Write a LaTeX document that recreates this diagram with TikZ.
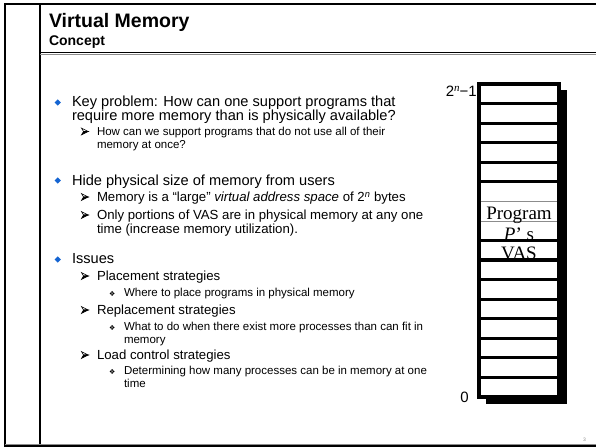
\documentclass[tikz,border=0pt]{standalone}
\usepackage{fontspec}
\setmainfont{Liberation Sans}
\newfontfamily\serifface{Liberation Serif}
\newfontfamily\dingface{DejaVu Sans}
\usetikzlibrary{shapes.geometric}
\definecolor{bulletblue}{RGB}{20,100,210}
\definecolor{rulegray}{RGB}{140,140,140}

\tikzset{
  txt/.style={anchor=base west, inner sep=0pt, outer sep=0pt},
  lvlone/.style={txt, font=\fontsize{14.6}{16}\selectfont},
  lvltwo/.style={txt, font=\fontsize{13.2}{15}\selectfont},
  lvltwosmall/.style={txt, font=\fontsize{11.5}{13}\selectfont},
  lvlthree/.style={txt, font=\fontsize{11.5}{13}\selectfont},
  bluediamond/.style={diamond, fill=bulletblue, inner sep=0pt,
    minimum width=6.5pt, minimum height=6.5pt},
  dingbullet/.style={txt, font=\dingface\fontsize{7}{8}\selectfont},
  frameline/.style={line width=2pt, black},
  cell/.style={fill=white, draw=black, line width=3.2pt},
  cellword/.style={anchor=base, inner sep=0pt, font=\serifface\fontsize{19}{20}\selectfont},
  % three-dimensional arrowhead bullet: light upper facet, dark lower facet
  arrowmark/.pic={
    \filldraw[black, fill=white, line width=0.6pt, line join=miter]
      (0,-3.4) -- (6.6,0) -- (2,0) -- cycle;
    \filldraw[black, line width=0.6pt, line join=miter]
      (2,0) -- (6.6,0) -- (0,3.4) -- cycle;
  },
}

\begin{document}
\begin{tikzpicture}[x=1pt, y=-1pt]
\useasboundingbox (0,0) rectangle (596,447);
\fill[white] (0,0) rectangle (596,447);

% slide frame
\draw[frameline] (5,4) -- (596,4);
\draw[frameline] (5,3) -- (5,447);
\draw[frameline] (40,3) -- (40,447);
\draw[line width=1.6pt] (40,52.5) -- (596,52.5);
\draw[rulegray, line width=0.8pt] (40,54.2) -- (596,54.2);
\draw[rulegray, line width=0.8pt] (5,444.6) -- (596,444.6);
\draw[line width=1.6pt] (5,446) -- (596,446);

% heading
\node[txt, font=\bfseries\fontsize{19.5}{21}\selectfont] (title) at (49,27.5) {Virtual Memory};
\node[txt, font=\bfseries\fontsize{14}{16}\selectfont] (subtitle) at (49,45) {Concept};

% first bullet
\node[bluediamond] (b1) at (57.7,102.5) {};
\node[lvlone] (t1a) at (72,106.5) {Key problem: How can one support programs that};
\node[lvlone] (t1b) at (72,120.5) {require more memory than is physically available?};
\pic at (81.5,131.5) {arrowmark};
\node[lvltwosmall] (t1c) at (97,135) {How can we support programs that do not use all of their};
\node[lvltwosmall] (t1d) at (97,148) {memory at once?};

% second bullet
\node[bluediamond] (b2) at (57.7,180.5) {};
\node[lvlone] (t2a) at (72,185) {Hide physical size of memory from users};
\pic at (81.5,197) {arrowmark};
\node[lvltwo] (t2b) at (97,201.5) {Memory is a “large” \textit{virtual address space} of 2\textsuperscript{\textit{n}} bytes};
\pic at (81.5,215) {arrowmark};
\node[lvltwo] (t2c) at (97,219.5) {Only portions of VAS are in physical memory at any one};
\node[lvltwo] (t2d) at (97,233) {time (increase memory utilization).};

% third bullet
\node[bluediamond] (b3) at (57.7,259.5) {};
\node[lvlone] (t3a) at (72,263.5) {Issues};
\pic at (81.5,276) {arrowmark};
\node[lvltwo] (t3b) at (97,280.5) {Placement strategies};
\node[dingbullet] (d1) at (109,296) {❖};
\node[lvlthree] (t3c) at (124,296) {Where to place programs in physical memory};
\pic at (81.5,310) {arrowmark};
\node[lvltwo] (t3d) at (97,314.5) {Replacement strategies};
\node[dingbullet] (d2) at (109,330.5) {❖};
\node[lvlthree] (t3e) at (124,330.5) {What to do when there exist more processes than can fit in};
\node[lvlthree] (t3f) at (124,343.5) {memory};
\pic at (81.5,355) {arrowmark};
\node[lvltwo] (t3g) at (97,359.5) {Load control strategies};
\node[dingbullet] (d3) at (109,374.5) {❖};
\node[lvlthree] (t3h) at (124,374.5) {Determining how many processes can be in memory at one};
\node[lvlthree] (t3i) at (124,387.5) {time};

% virtual address space column: shadow, then sixteen cells
\fill[black] (486,90) rectangle (567,404);
\foreach \i in {0,...,15}{
  \filldraw[cell] (479,{84+\i*19.5625}) rectangle (559,{84+(\i+1)*19.5625});
}
% thin separators inside the labelled block
\foreach \i in {6,7}{
  \draw[white, line width=3.4pt] (480.7,{84+\i*19.5625}) -- (557.3,{84+\i*19.5625});
  \draw[rulegray, line width=0.7pt] (480.7,{84+\i*19.5625}) -- (557.3,{84+\i*19.5625});
}
\node[cellword] (prog) at (519,219.3) {Program};
\node[cellword] (pname) at (519,240) {\textit{P}’ s};
\node[cellword] (vas) at (519,259.5) {VAS};

% address labels
\node[anchor=base east, inner sep=0pt, font=\fontsize{15}{16}\selectfont] (top) at (477,96)
  {2\raisebox{4.5pt}{\serifface\itshape\fontsize{11}{11}\selectfont n}−1};
\node[anchor=base east, inner sep=0pt, font=\fontsize{15}{16}\selectfont] (bottom) at (469,402.5) {0};

% page number
\node[anchor=base, inner sep=0pt, text=rulegray, font=\fontsize{5}{5}\selectfont] (page) at (584.5,441) {3};
\end{tikzpicture}
\end{document}
